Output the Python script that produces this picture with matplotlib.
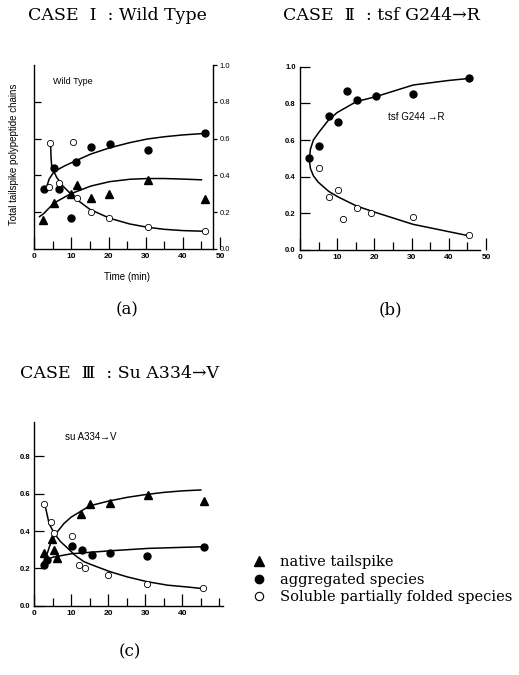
import matplotlib.pyplot as plt
from matplotlib.lines import Line2D
from matplotlib.ticker import MultipleLocator

# ---- data ----
# (a) wild type
a_native_t = [2.4, 5.3, 9.8, 11.6, 15.2, 20.2, 30.5, 45.9]
a_native_y = [0.158, 0.25, 0.30, 0.35, 0.275, 0.30, 0.375, 0.27]
a_aggr_t = [2.6, 5.3, 6.7, 10.0, 11.2, 15.2, 20.3, 30.5, 45.9]
a_aggr_y = [0.325, 0.44, 0.325, 0.17, 0.475, 0.553, 0.57, 0.54, 0.63]
a_sol_t = [4.2, 4.0, 6.7, 10.3, 11.4, 15.4, 20.2, 30.5, 45.9]
a_sol_y = [0.574, 0.335, 0.36, 0.583, 0.275, 0.20, 0.167, 0.12, 0.10]

a_native_fit_t = [1.4, 2.4, 5.3, 9.8, 15.2, 20.3, 25.7, 30.5, 35, 40, 45]
a_native_fit_y = [0.176, 0.19, 0.25, 0.30, 0.342, 0.366, 0.379, 0.383, 0.383, 0.38, 0.376]
a_aggr_fit_t = [2.9, 4.0, 5.3, 8.0, 11.2, 15.2, 20.3, 25.7, 30.5, 35, 40, 45.8]
a_aggr_fit_y = [0.31, 0.38, 0.42, 0.45, 0.48, 0.516, 0.55, 0.578, 0.598, 0.61, 0.62, 0.628]
a_sol_fit_t = [4.4, 4.5, 4.7, 6.0, 7.8, 9.8, 12.0, 15.0, 20.3, 25.7, 30.5, 35, 40, 45]
a_sol_fit_y = [0.574, 0.50, 0.447, 0.39, 0.34, 0.30, 0.26, 0.215, 0.167, 0.136, 0.118, 0.107, 0.10, 0.097]

# (b) tsf G244->R
b_aggr_t = [2.5, 5.1, 7.7, 10.2, 12.7, 15.2, 20.3, 30.4, 45.5]
b_aggr_y = [0.50, 0.57, 0.73, 0.70, 0.87, 0.82, 0.84, 0.85, 0.94]
b_sol_t = [5.1, 7.7, 10.2, 11.6, 15.2, 19.0, 30.4, 45.5]
b_sol_y = [0.45, 0.29, 0.33, 0.17, 0.23, 0.20, 0.18, 0.08]

b_fit_t = [45.5, 40, 30.4, 20.3, 15.2, 10.0, 7.7, 5.0, 3.6, 2.8, 2.5,
           2.8, 3.6, 4.9, 7.7, 10.2, 15.2, 20.3, 30.4, 40, 44.8]
b_fit_y = [0.936, 0.925, 0.90, 0.836, 0.81, 0.75, 0.71, 0.64, 0.60, 0.55, 0.49,
           0.445, 0.405, 0.37, 0.32, 0.29, 0.24, 0.205, 0.14, 0.10, 0.08]

# (c) su A334->V
c_native_t = [2.6, 4.9, 5.3, 6.2, 12.6, 15.0, 20.5, 30.8, 45.9]
c_native_y = [0.28, 0.355, 0.30, 0.255, 0.49, 0.544, 0.55, 0.593, 0.562]
c_aggr_t = [2.6, 3.5, 10.2, 12.8, 15.5, 20.5, 30.5, 45.9]
c_aggr_y = [0.22, 0.245, 0.32, 0.30, 0.27, 0.28, 0.266, 0.313]
c_sol_t = [2.6, 4.4, 5.3, 10.3, 12.1, 13.8, 20.0, 30.4, 45.7]
c_sol_y = [0.545, 0.45, 0.39, 0.373, 0.22, 0.20, 0.164, 0.115, 0.097]

c_native_fit_t = [3.5, 4.5, 6.0, 8.0, 10.0, 12.5, 15.0, 20.0, 25.0, 30.0, 35.0, 40.0, 45.0]
c_native_fit_y = [0.28, 0.34, 0.39, 0.44, 0.475, 0.505, 0.535, 0.56, 0.58, 0.595, 0.607, 0.615, 0.62]
c_aggr_fit_t = [2.4, 5.0, 10.0, 15.0, 20.5, 30.8, 45.9]
c_aggr_fit_y = [0.235, 0.26, 0.278, 0.286, 0.294, 0.307, 0.316]
c_sol_fit_t = [3.1, 4.0, 5.3, 7.0, 8.9, 11.0, 13.4, 15.0, 20.5, 25.0, 30.4, 36.0, 42.0, 44.8]
c_sol_fit_y = [0.52, 0.44, 0.39, 0.345, 0.31, 0.27, 0.236, 0.223, 0.182, 0.155, 0.129, 0.11, 0.099, 0.093]

legend_labels = ['native tailspike', 'aggregated species', 'Soluble partially folded species']

SANS = ['Liberation Sans', 'DejaVu Sans']
SERIF = ['DejaVu Serif', 'DejaVu Sans']

plt.rcParams['font.family'] = SANS
plt.rcParams['axes.linewidth'] = 1.0

W, H = 519, 675
fig = plt.figure(figsize=(W / 100, H / 100), dpi=100)


def rect(x0, x1, ytop, ybot):
    return [x0 / W, 1 - ybot / H, (x1 - x0) / W, (ybot - ytop) / H]


def style_x(ax, end, labels):
    ax.spines['top'].set_visible(False)
    ax.spines['right'].set_visible(False)
    ax.spines['bottom'].set_bounds(0, end)
    ax.set_xticks(labels)
    ax.xaxis.set_minor_locator(MultipleLocator(5))
    ax.tick_params(axis='x', which='major', direction='in', length=8.5, width=0.9,
                   labelsize=6, pad=3)
    ax.tick_params(axis='x', which='minor', direction='in', length=6, width=0.9)
    for t in ax.get_xticklabels():
        t.set_fontweight('bold')


def curves(ax, fits, native=None, aggr=None, sol=None):
    for t, y in fits:
        ax.plot(t, y, color='black', lw=1.1, zorder=2)
    if native is not None:
        ax.plot(*native, '^', color='black', ms=5.5, zorder=3)
    if aggr is not None:
        ax.plot(*aggr, 'o', color='black', ms=5, zorder=3)
    if sol is not None:
        ax.plot(*sol, 'o', mfc='white', mec='black', mew=0.6, ms=4.5, zorder=3)


# ---- panel (a) ----
ax = fig.add_axes(rect(34.3, 220, 65, 249))
ax.set_xlim(0, 50)
ax.set_ylim(0, 1.0)
style_x(ax, 48.2, [0, 10, 20, 30, 40, 50])
ax.set_yticks([0.2, 0.4, 0.6, 0.8])
ax.tick_params(axis='y', direction='in', length=5, width=0.9, labelleft=False)
curves(ax, [(a_native_fit_t, a_native_fit_y), (a_aggr_fit_t, a_aggr_fit_y),
            (a_sol_fit_t, a_sol_fit_y)],
       (a_native_t, a_native_y), (a_aggr_t, a_aggr_y), (a_sol_t, a_sol_y))
ax.text(5.1, 0.91, 'Wild Type', fontsize=6.5, va='center')
axr = ax.twinx()
axr.set_ylim(0, 1.0)
for s in ['top', 'left', 'bottom']:
    axr.spines[s].set_visible(False)
axr.spines['right'].set_position(('data', 48.2))
axr.set_yticks([0, 0.2, 0.4, 0.6, 0.8, 1.0])
axr.set_yticklabels(['0.0', '0.2', '0.4', '0.6', '0.8', '1.0'])
axr.tick_params(axis='y', direction='out', length=3, width=0.9, labelsize=5.5, pad=1.5)
fig.text(14 / W, 1 - 154 / H, 'Total tailspike polypeptide chains', rotation=90,
         ha='center', va='center', fontsize=7)
fig.text(127 / W, 1 - 277 / H, 'Time (min)', ha='center', va='center', fontsize=7)

# ---- panel (b) ----
ax = fig.add_axes(rect(300, 486, 66.7, 250))
ax.set_xlim(0, 50)
ax.set_ylim(0, 1.0)
style_x(ax, 48.4, [0, 10, 20, 30, 40, 50])
ax.set_yticks([0, 0.2, 0.4, 0.6, 0.8, 1.0])
ax.set_yticklabels(['0.0', '0.2', '0.4', '0.6', '0.8', '1.0'])
ax.tick_params(axis='y', direction='in', length=7, width=0.9, labelsize=5.5, pad=3)
for t in ax.get_yticklabels():
    t.set_fontweight('bold')
curves(ax, [(b_fit_t, b_fit_y)], aggr=(b_aggr_t, b_aggr_y), sol=(b_sol_t, b_sol_y))
ax.text(23.7, 0.726, 'tsf G244 \u2192R', fontsize=7, va='center')

# ---- panel (c) ----
ax = fig.add_axes(rect(34.3, 223, 419, 605.7))
ax.set_xlim(0, 51)
ax.set_ylim(0, 1.0)
style_x(ax, 51, [0, 10, 20, 30, 40])
ax.set_yticks([0, 0.2, 0.4, 0.6, 0.8])
ax.set_yticklabels(['0.0', '0.2', '0.4', '0.6', '0.8'])
ax.tick_params(axis='y', direction='in', length=7, width=0.9, labelsize=5.5, pad=3)
for t in ax.get_yticklabels():
    t.set_fontweight('bold')
ax.spines['left'].set_bounds(0, 0.985)
curves(ax, [(c_native_fit_t, c_native_fit_y), (c_aggr_fit_t, c_aggr_fit_y),
            (c_sol_fit_t, c_sol_fit_y)],
       (c_native_t, c_native_y), (c_aggr_t, c_aggr_y), (c_sol_t, c_sol_y))
ax.text(8.3, 0.905, 'su A334\u2192V', fontsize=7, va='center')

# ---- titles, panel letters, legend ----
titles = ['CASE  \u2160  : Wild Type', 'CASE  \u2161  : tsf G244\u2192R', 'CASE  \u2162  : Su A334\u2192V']
title_pos = [(28, 15), (283, 15), (20, 373)]
for txt, (x, y) in zip(titles, title_pos):
    fig.text(x / W, 1 - y / H, txt, family=SERIF, fontsize=12.5, ha='left', va='center')

for txt, (x, y) in zip(['(a)', '(b)', '(c)'], [(127, 310), (390, 310), (130, 652)]):
    fig.text(x / W, 1 - y / H, txt, family=SERIF, fontsize=12, ha='center', va='center')

handles = [Line2D([], [], ls='', marker='^', color='black', ms=7),
           Line2D([], [], ls='', marker='o', color='black', ms=6),
           Line2D([], [], ls='', marker='o', mfc='white', mec='black', mew=0.8, ms=6)]
fig.legend(handles, legend_labels, loc='upper left', bbox_to_anchor=(252 / W, 1 - 555 / H),
           frameon=False, prop={'family': SERIF, 'size': 10.5}, handlelength=1.0,
           handletextpad=0.9, labelspacing=0.25, borderpad=0, borderaxespad=0)

fig.savefig('out.png', dpi=100)
